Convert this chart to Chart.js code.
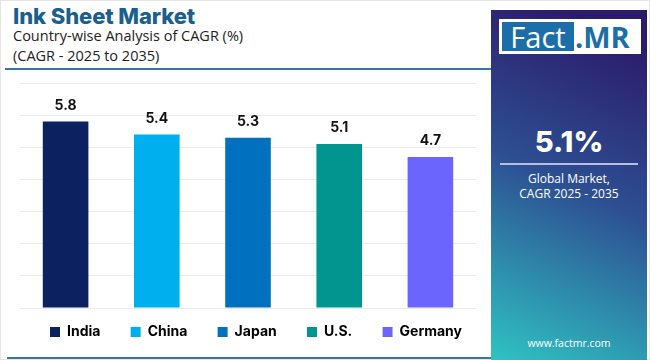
<!DOCTYPE html>
<html>
<head>
<meta charset="utf-8">
<script src="https://cdn.jsdelivr.net/npm/chart.js@4"></script>
<style>
  html,body{margin:0;padding:0;background:#fff;}
  body{width:650px;height:360px;position:relative;overflow:hidden;font-family:"Open Sans","Inter",sans-serif;}
  .frame{position:absolute;left:0;top:0;width:648px;height:358px;border:1px solid #e6e6e6;}
  .title{position:absolute;left:13px;top:3px;font-family:"Inter","Open Sans",sans-serif;font-weight:800;font-size:22px;color:#1b5f8f;letter-spacing:-0.1px;}
  .sub{position:absolute;left:13px;font-size:14.5px;color:#222;}
  .rule{position:absolute;left:5px;top:68px;width:486px;height:2px;background:#3577a6;}
  .rule2{position:absolute;left:7px;top:357px;width:484px;height:2px;background:#3577a6;}
  .panel{position:absolute;left:491px;top:10px;width:156px;height:350px;
    background:linear-gradient(205deg,#2c1a6a 8%,#2d4f92 50%,#2fc3c3 100%);}
  .logo{position:absolute;left:8px;top:9px;width:142px;height:35px;background:#fff;}
  .logo .fact{position:absolute;left:3px;top:3px;width:72px;height:29px;background:#1b6ea8;color:#fff;font-family:"Open Sans",sans-serif;font-size:29px;line-height:29px;text-align:center;font-weight:400;}
  .logo .mr{position:absolute;left:76px;top:3px;height:29px;color:#1b6ea8;font-family:"Open Sans",sans-serif;font-size:29px;line-height:29px;font-weight:700;}
  .big{position:absolute;left:0;width:156px;top:114px;text-align:center;color:#fff;font-family:"Inter",sans-serif;font-weight:800;font-size:29px;}
  .pline{position:absolute;left:9px;top:153px;width:138px;height:2px;background:#b7bde3;}
  .ptxt{position:absolute;left:0;width:156px;top:162px;text-align:center;color:#fff;font-size:12px;line-height:14.5px;}
  .www{position:absolute;left:0;width:156px;top:326px;text-align:center;color:#fff;font-size:10.5px;}
  #wrap{position:absolute;left:0;top:70px;width:490px;height:300px;}
</style>
</head>
<body>
<div class="frame"></div>
<div class="title">Ink Sheet Market</div>
<div class="sub" style="top:26px">Country-wise Analysis of CAGR (%)</div>
<div class="sub" style="top:46px">(CAGR - 2025 to 2035)</div>
<div class="rule"></div>
<div class="rule2"></div>
<div class="panel">
  <div class="logo"><div class="fact">Fact</div><div class="mr">.MR</div></div>
  <div class="big">5.1%</div>
  <div class="pline"></div>
  <div class="ptxt">Global Market,<br>CAGR 2025 - 2035</div>
  <div class="www">www.factmr.com</div>
</div>
<div id="wrap"><canvas id="c"></canvas></div>
<script>
const categories = ["India", "China", "Japan", "U.S.", "Germany"];
const cagrValues = [5.8, 5.4, 5.3, 5.1, 4.7];
const barColors = ["#0b2160", "#00b0ee", "#0070bf", "#00968f", "#6b65fe"];
const yTicks = [0, 1, 2, 3, 4, 5, 6, 7];

const valueLabels = {
  id: "valueLabels",
  afterDatasetsDraw(chart) {
    const ctx = chart.ctx;
    const meta = chart.getDatasetMeta(0);
    ctx.save();
    ctx.font = "bold 14px Inter, 'Open Sans', sans-serif";
    ctx.fillStyle = "#111";
    ctx.textAlign = "center";
    ctx.textBaseline = "bottom";
    meta.data.forEach((bar, i) => {
      ctx.fillText(cagrValues[i].toFixed(1), bar.x, bar.y - 9);
    });
    ctx.restore();
  }
};

// nudge the legend row up towards the axis and slightly right, as in the reference
const legendShift = {
  id: "legendShift",
  afterLayout(chart) {
    const lg = chart.legend;
    if (!lg) return;
    lg.left += 8; lg.right += 8;
    lg.top -= 8; lg.bottom -= 8;
  }
};

new Chart(document.getElementById("c"), {
  type: "bar",
  data: {
    labels: categories,
    datasets: [{
      data: cagrValues,
      backgroundColor: barColors,
      borderWidth: 0,
      categoryPercentage: 1.0,
      barPercentage: 0.5
    }]
  },
  options: {
    responsive: true,
    maintainAspectRatio: false,
    animation: false,
    layout: { padding: { left: 20, right: 14, top: 13, bottom: 13 } },
    plugins: {
      tooltip: { enabled: false },
      legend: {
        position: "bottom",
        labels: {
          boxWidth: 10,
          boxHeight: 10,
          padding: 17,
          color: "#111",
          font: { family: "Inter, 'Open Sans', sans-serif", weight: "bold", size: 14 },
          generateLabels(chart) {
            return categories.map((c, i) => ({
              text: i < categories.length - 1 ? c + "    " : c,
              fillStyle: barColors[i],
              strokeStyle: barColors[i],
              lineWidth: 0,
              hidden: false,
              index: i,
              datasetIndex: 0
            }));
          }
        }
      }
    },
    scales: {
      x: {
        grid: { display: false },
        border: { display: false },
        ticks: { display: false }
      },
      y: {
        min: 0,
        max: 7,
        afterBuildTicks(axis) { axis.ticks = yTicks.map(v => ({ value: v })); },
        grid: { color: "#ececec", lineWidth: 1, drawTicks: false },
        border: { display: false },
        ticks: { display: false }
      }
    }
  },
  plugins: [valueLabels, legendShift]
});
</script>
</body>
</html>
